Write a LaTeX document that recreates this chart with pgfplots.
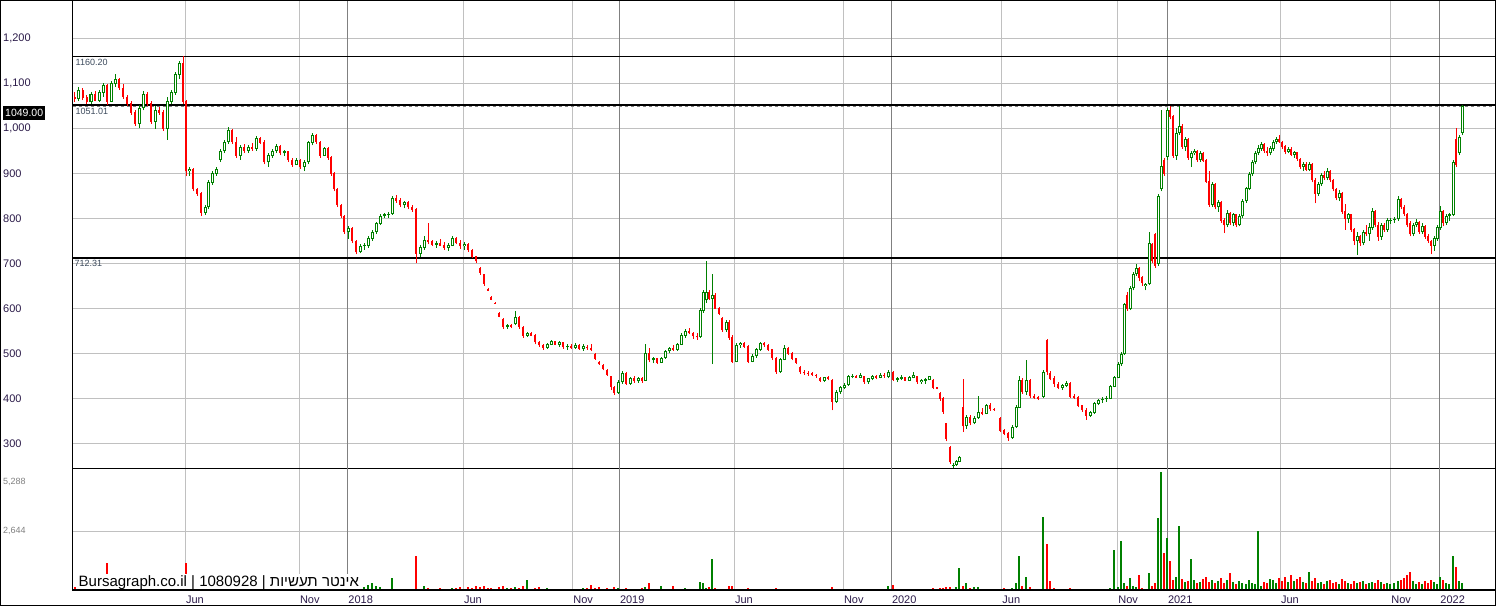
\documentclass[border=0pt]{standalone}
\usepackage{pgfplots}
\pgfplotsset{compat=1.18}
\usepackage{pgfplotstable}
\usepackage{fontspec}
\setmainfont{Liberation Sans}
\newfontfamily\hebfont[Script=Hebrew]{Liberation Sans}
\TeXXeTstate=1

\definecolor{upc}{HTML}{008000}
\definecolor{dnc}{HTML}{FF0000}
\definecolor{gridc}{HTML}{C0C0C0}
\definecolor{yearc}{HTML}{808080}
\definecolor{tickc}{HTML}{2A1A48}
\definecolor{levc}{HTML}{3C4A5C}

% x = bar position (px), o h l c = price, v = volume
\pgfplotstableread{
x o h l c v
75 1070 1080 1058 1065 120
79 1065 1092 1060 1085 0
83 1085 1090 1062 1068 0
87 1068 1075 1055 1058 0
91 1058 1080 1055 1075 0
95 1075 1082 1060 1062 0
99 1062 1085 1058 1080 0
103 1080 1100 1070 1095 0
107 1095 1098 1052 1060 1195
111 1060 1105 1058 1100 0
115 1100 1120 1092 1110 0
119 1110 1112 1085 1090 0
123 1090 1098 1065 1070 0
127 1070 1075 1050 1055 0
131 1055 1060 1030 1035 0
135 1035 1040 1005 1010 0
139 1010 1052 1000 1045 0
143 1045 1082 1040 1075 0
147 1075 1080 1050 1055 0
151 1055 1060 1010 1015 0
155 1015 1050 998 1040 0
159 1040 1048 1030 1035 0
163 1035 1040 995 1000 0
167 1000 1070 975 1060 0
171 1060 1085 1055 1080 0
175 1080 1125 1075 1120 0
179 1120 1150 1110 1145 0
183 1145 1160 1055 1060 0
186 1060 1063 893 905 1195
189 905 915 895 910 0
193 910 912 860 865 0
197 865 868 850 855 0
201 855 858 805 812 0
205 812 830 808 825 0
208 825 885 820 880 0
212 880 905 875 900 0
216 900 915 895 910 0
220 930 955 925 950 0
224 950 975 945 970 0
228 970 1002 965 995 0
232 995 998 965 970 0
236 970 980 935 940 0
240 940 962 930 958 0
244 958 965 945 950 0
248 950 962 945 958 0
252 958 968 950 955 0
256 955 982 950 978 0
260 978 980 965 968 0
264 968 975 920 925 0
268 925 945 915 940 0
272 940 955 935 950 0
276 950 965 945 960 0
280 960 962 940 945 0
284 945 952 938 948 0
288 948 950 925 930 0
292 930 935 915 920 0
296 920 935 918 930 0
300 930 932 910 915 0
304 915 930 905 925 0
308 925 972 920 968 0
312 968 990 962 985 0
316 985 988 965 970 0
320 970 972 935 940 0
324 940 958 938 955 0
328 955 958 930 935 0
331 935 938 895 900 0
334 900 902 860 865 0
337 865 868 825 830 0
341 830 832 800 805 0
344 805 808 765 770 0
348 770 782 755 778 0
352 778 780 745 750 0
356 750 752 720 725 0
360 725 742 722 738 0
364 738 745 730 740 150
368 740 760 735 755 220
372 755 775 750 770 300
376 770 792 765 788 200
380 788 810 785 805 120
384 805 812 800 808 0
388 808 815 800 810 60
392 810 850 808 845 550
396 845 852 835 840 60
400 840 845 825 830 40
404 830 838 822 835 50
408 835 838 820 825 40
412 825 830 815 820 30
416 820 822 700 722 1540
420 722 740 715 735 60
424 735 760 730 752 200
428 752 790 742 748 80
432 748 752 738 742 60
436 742 750 735 745 50
440 745 755 738 740 100
444 740 748 730 735 60
448 735 745 728 740 40
452 740 760 738 755 80
456 755 758 742 745 100
460 745 752 732 738 120
464 738 748 730 742 60
468 742 745 725 730 150
472 730 732 712 715 100
476 715 716 700 705 180
480 690 692 675 680 120
484 675 677 650 655 160
488 642 645 638 640 80
491 625 628 618 620 100
495 612 614 610 611 60
499 590 592 580 582 140
503 576 578 555 558 200
507 560 566 555 563 90
511 563 566 556 560 80
515 565 595 562 580 120
519 580 582 555 558 100
523 558 560 535 540 160
527 540 548 536 545 450
531 545 547 538 540 60
535 540 542 520 525 80
539 525 528 515 518 150
543 518 520 508 512 60
547 512 522 510 520 70
551 520 530 518 526 40
555 526 528 518 520 50
559 520 528 515 524 30
563 524 526 510 514 40
567 514 520 508 516 60
571 516 520 510 512 40
575 512 522 510 518 50
579 518 520 508 510 30
583 510 520 506 516 80
587 514 518 508 512 100
591 512 520 505 508 224
595 498 500 486 488 90
599 480 482 474 476 120
603 474 476 462 465 60
607 462 464 450 452 80
611 448 450 418 425 60
614 425 428 408 412 120
618 412 440 410 436 80
622 436 460 432 455 60
626 455 458 430 433 100
630 433 448 430 445 60
634 445 450 435 438 40
638 438 448 434 444 40
642 444 448 435 440 80
645 440 520 438 500 120
649 500 512 480 485 300
653 485 492 478 488 60
657 488 490 476 480 60
661 480 492 478 490 200
665 490 508 488 505 40
669 505 515 500 512 40
673 512 518 505 508 200
677 508 522 505 520 40
681 520 545 518 540 60
685 540 555 535 550 80
689 550 556 542 545 60
693 545 548 532 538 60
697 538 545 530 536 40
700 536 600 534 595 370
703 595 640 590 635 330
706 618 706 612 636 80
709 636 640 618 622 120
712 622 676 476 630 1390
715 630 634 598 600 100
719 600 602 585 588 60
722 578 580 548 552 60
726 552 575 548 570 40
729 570 573 530 535 180
732 535 540 478 482 200
736 482 522 480 518 60
740 518 525 512 522 40
744 522 526 512 515 40
748 515 518 478 482 80
752 482 498 480 494 60
756 494 512 490 508 40
760 508 525 505 522 40
764 522 526 515 518 30
768 518 520 505 508 40
772 508 510 485 490 60
776 490 492 454 458 80
780 458 490 456 486 40
784 486 518 484 512 40
788 512 515 496 500 30
792 500 502 484 488 40
796 488 490 476 480 30
800 470 472 455 458 60
804 458 462 452 456 40
808 456 460 450 455 30
812 455 458 450 452 40
816 452 455 446 450 30
820 445 448 436 440 40
824 440 448 436 446 40
828 446 450 440 444 30
832 440 442 373 392 150
836 392 418 390 414 60
840 414 428 410 424 40
844 424 434 420 430 30
848 430 452 428 448 40
852 448 455 444 450 30
856 450 452 444 446 30
860 446 456 444 452 30
864 448 450 432 436 40
868 436 446 432 444 30
872 444 452 440 448 30
876 448 452 442 446 30
880 446 456 444 452 30
884 452 456 446 450 40
888 448 462 444 458 200
893 458 460 438 442 220
897 442 448 436 444 40
901 444 452 440 446 30
905 446 448 438 440 30
909 440 450 438 446 40
913 446 458 444 452 30
917 448 450 432 436 40
921 436 442 432 440 30
925 440 446 432 442 40
929 442 450 440 448 40
933 440 442 420 424 80
937 424 426 420 422 60
940 412 414 395 400 100
943 400 402 366 370 80
946 344 346 304 310 120
950 292 294 254 258 120
953 250 256 246 252 60
956 252 262 250 260 150
959 260 272 258 268 1000
963 380 443 325 338 200
966 338 362 332 358 300
970 358 362 340 345 100
974 345 360 342 356 120
978 356 404 354 370 150
982 370 378 362 366 60
986 366 388 364 384 60
990 384 390 372 376 40
994 376 378 372 374 40
1000 356 358 324 328 60
1004 328 332 318 322 80
1008 322 326 306 312 60
1012 312 340 310 336 80
1016 336 385 334 380 300
1019 380 450 378 440 1523
1022 440 445 410 415 200
1026 415 485 408 440 597
1030 440 442 400 405 150
1034 405 410 398 402 60
1038 402 406 396 400 40
1043 404 462 400 458 3270
1047 530 532 452 458 2060
1050 456 460 440 444 400
1054 444 450 426 432 100
1058 432 436 420 424 60
1062 424 432 418 428 60
1066 428 438 424 434 40
1070 434 436 400 404 80
1074 404 410 398 402 40
1078 402 404 380 384 60
1082 384 386 370 374 40
1086 374 378 352 362 60
1090 362 372 358 368 40
1094 368 392 366 388 40
1098 388 398 384 396 60
1102 396 402 390 398 40
1106 398 404 392 400 30
1110 400 430 398 426 80
1114 426 450 424 446 1792
1118 446 480 444 476 150
1121 476 502 472 498 2195
1124 498 612 496 608 300
1127 630 636 594 598 200
1130 598 650 596 645 560
1133 645 680 640 676 200
1136 676 698 672 690 150
1139 690 692 660 668 660
1142 668 672 650 656 100
1145 650 656 640 654 60
1149 654 770 652 745 760
1152 742 746 700 705 200
1155 765 768 690 695 300
1158 700 855 695 850 3240
1161 865 1041 860 915 5288
1164 930 935 895 900 1672
1167 937 1044 930 1040 2345
1170 1040 1050 1020 1026 1300
1173 1026 1030 935 940 450
1176 940 1000 930 990 600
1179 990 1050 985 1005 2882
1182 1005 1010 955 960 500
1185 960 980 950 975 350
1188 975 978 930 935 400
1191 935 950 915 945 1390
1194 945 955 940 950 450
1197 950 952 925 930 300
1200 930 950 925 945 350
1203 945 948 925 928 500
1206 928 932 878 882 600
1209 882 905 826 830 350
1212 830 880 825 875 450
1215 875 878 820 825 300
1218 825 840 815 835 400
1221 835 838 790 795 550
1224 795 800 767 785 300
1227 785 818 780 812 450
1230 812 815 785 790 760
1233 790 812 782 808 350
1236 808 810 780 785 250
1239 785 810 782 805 400
1242 805 842 800 838 300
1246 838 870 835 866 250
1249 866 902 862 898 450
1252 898 930 895 925 300
1255 925 950 920 945 250
1258 945 962 940 955 2644
1261 955 970 950 965 200
1264 965 968 945 950 350
1267 950 958 938 945 300
1270 945 960 940 955 500
1273 955 975 950 970 450
1276 970 980 965 975 300
1279 975 985 968 970 550
1282 970 972 955 960 400
1285 960 962 942 948 600
1288 948 958 944 954 350
1291 954 958 938 942 650
1294 942 950 935 946 400
1297 946 948 928 932 500
1300 932 935 910 915 600
1303 915 925 905 920 350
1306 920 924 904 908 300
1309 908 925 904 920 800
1312 920 922 880 885 400
1315 885 890 833 855 550
1318 855 880 850 876 300
1321 876 900 872 895 350
1324 895 905 885 890 250
1327 890 912 885 905 400
1330 905 908 880 885 450
1333 885 888 860 865 300
1336 865 868 840 845 350
1339 845 862 838 855 250
1342 855 858 810 815 500
1345 815 832 774 798 400
1348 798 812 790 808 300
1351 808 810 770 775 250
1354 775 778 740 750 400
1357 750 770 719 760 300
1360 760 762 738 745 350
1363 745 775 740 770 400
1366 770 785 760 765 250
1369 765 790 750 780 300
1372 780 822 775 815 350
1375 815 818 780 785 300
1378 785 792 750 760 450
1381 760 790 752 785 350
1384 785 790 770 775 250
1387 775 800 770 795 300
1390 795 800 788 796 250
1394 796 802 790 798 300
1398 798 850 795 842 400
1401 842 845 820 825 450
1404 825 830 805 810 550
1407 810 812 780 785 650
1410 790 795 760 765 800
1413 765 790 760 785 400
1416 785 798 780 792 250
1419 792 795 765 770 350
1422 770 790 765 782 250
1425 782 784 755 760 400
1428 760 765 745 750 300
1431 750 752 720 740 450
1434 740 760 728 755 350
1437 755 785 750 780 250
1440 780 828 775 815 600
1443 815 818 782 790 450
1446 790 810 785 805 300
1449 805 812 795 808 250
1453 808 930 805 925 1523
1456 975 1000 915 920 1045
1459 945 985 940 980 400
1462 990 1052 985 1049 300
}\prices

\pgfplotsset{
  panel/.style={scale only axis, anchor=south west, width=1422pt,
    xmin=73, xmax=1495,
    axis line style={black, line width=1pt},
    major tick length=0pt,
    xtick={185.3,299.3,463.3,572.7,734.3,843.3,1001.7,1117.7,1280.3,1390.7},
    extra x ticks={347.7,619.3,891.3,1167.3,1439.7},
    xmajorgrids, ymajorgrids,
    grid style={gridc, line width=1pt},
    extra x tick style={grid style={yearc, line width=1pt}},
    yticklabel style={anchor=west, inner sep=0pt, xshift=-70pt},
  },
}

\begin{document}
\begin{tikzpicture}
\useasboundingbox (0,0) rectangle (1496pt,606pt);

% price panel
\begin{axis}[panel, at={(73pt,138pt)}, height=468pt,
  ymin=245.1, ymax=1285.1,
  ytick={300,400,...,1200},
  xticklabels={}, extra x tick labels={},
  xticklabel style={opacity=0},
  yticklabel style={text=tickc, font=\fontsize{11}{12}\selectfont},
  clip=true,
  /pgf/number format/.cd, 1000 sep={,}, assume math mode=true]

\addplot[black, line width=1pt] coordinates {(73,1160.2) (1495,1160.2)};
\addplot[black, line width=2pt] coordinates {(73,1051.01) (1495,1051.01)};
\addplot[gray, dashed, line width=0.8pt] coordinates {(73,1048.4) (1495,1048.4)};
\addplot[black, line width=2pt] coordinates {(73,712.31) (1495,712.31)};

% wicks: segments from low to high, zero length for the other colour
\addplot[draw=upc, line width=1pt, -, quiver={u=0, v={\thisrow{c}<\thisrow{o} ? 0 : \thisrow{h}-\thisrow{l}}}]
  table[x=x, y=l] {\prices};
\addplot[draw=dnc, line width=1pt, -, quiver={u=0, v={\thisrow{c}<\thisrow{o} ? \thisrow{h}-\thisrow{l} : 0}}]
  table[x=x, y=l] {\prices};
% bodies
\addplot[draw=dnc, line width=2.6pt, -, quiver={u=0, v={\thisrow{c}<\thisrow{o} ? \thisrow{o}-\thisrow{c}+1.2 : 0}}]
  table[x=x, y expr=\thisrow{c}-0.6] {\prices};
\addplot[draw=upc, line width=3pt, -, quiver={u=0, v={\thisrow{c}<\thisrow{o} ? 0 : \thisrow{c}-\thisrow{o}+1.2}}]
  table[x=x, y expr=\thisrow{o}-0.6] {\prices};
\addplot[draw=white, line width=1pt, -, quiver={u=0, v={\thisrow{c}<\thisrow{o} ? 0 : max(\thisrow{c}-\thisrow{o}-3.2,0)}}]
  table[x=x, y expr=\thisrow{o}+1.6] {\prices};

\node[anchor=north west, inner sep=0pt, text=levc, font=\fontsize{9}{10}\selectfont] at (axis cs:75.5,1154) {1160.20};
\node[anchor=north west, inner sep=0pt, text=levc, font=\fontsize{9}{10}\selectfont] at (axis cs:75.5,1045) {1051.01};
\node[anchor=north west, inner sep=0pt, text=levc, font=\fontsize{9}{10}\selectfont] at (axis cs:74.5,707) {712.31};
\end{axis}

% volume panel
\begin{axis}[panel, at={(73pt,16pt)}, height=122pt,
  ymin=0, ymax=5467,
  ytick={2644},
  extra y ticks={5288},
  extra y tick style={grid=none, yticklabel style={yshift=-10pt}},
  xticklabels={Jun,Nov,Jun,Nov,Jun,Nov,Jun,Nov,Jun,Nov},
  extra x tick labels={2018,2019,2020,2021,2022},
  xticklabel style={anchor=north west, inner sep=0pt, yshift=-6pt, xshift=0.5pt, text=tickc, font=\fontsize{11}{12}\selectfont},
  yticklabel style={text=gray, font=\fontsize{9}{10}\selectfont},
  clip=true,
  /pgf/number format/.cd, 1000 sep={,}, assume math mode=true]

\addplot[ycomb, draw=upc, line width=1.2pt] table[x=x, y expr={\thisrow{c}<\thisrow{o} ? 0 : \thisrow{v}}] {\prices};
\addplot[ycomb, draw=dnc, line width=1.2pt] table[x=x, y expr={\thisrow{c}<\thisrow{o} ? \thisrow{v} : 0}] {\prices};

\node[anchor=base west, fill=white, inner sep=1.5pt, font=\fontsize{15}{17}\selectfont] at (axis cs:77,170)
  {Bursagraph.co.il | 1080928 | {\hebfont\beginR אינטר תעשיות\endR}};
\draw[black, line width=2pt] (rel axis cs:0,0) -- (rel axis cs:1,0);
\end{axis}

\node[fill=black, text=white, anchor=north west, inner sep=0pt, minimum width=42pt, minimum height=14pt, font=\fontsize{10.5}{12}\selectfont] at (3pt,500pt) {1049.00};
\draw[black, line width=1pt] (0.5pt,0.5pt) rectangle (1495.5pt,605.5pt);
\end{tikzpicture}
\end{document}
